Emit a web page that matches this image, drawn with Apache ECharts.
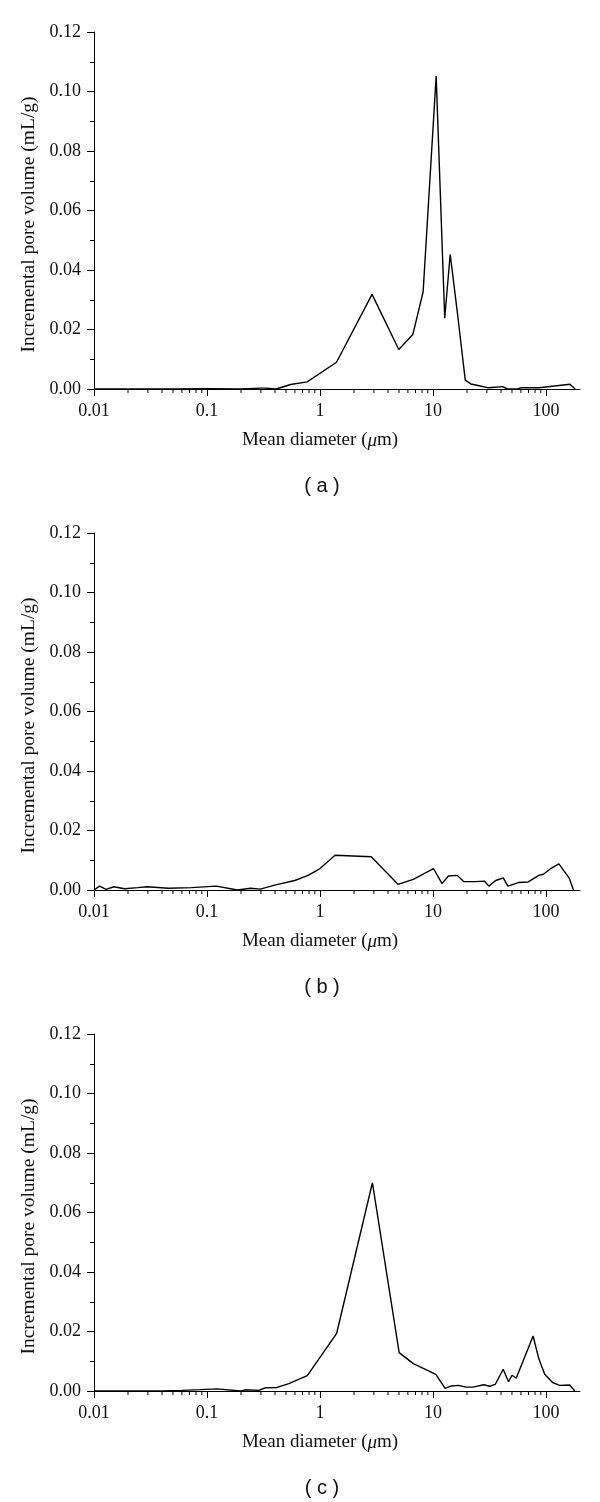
<!DOCTYPE html>
<html>
<head>
<meta charset="utf-8">
<script src="https://cdn.jsdelivr.net/npm/echarts@6/dist/echarts.min.js"></script>
<style>
    html, body { margin: 0; padding: 0; background: #fff; }
    #chart { width: 600px; height: 1502px; }
</style>
</head>
<body>
<div id="chart"></div>
<script>
// 面板 (a)
var diamA = [0.01, 0.02, 0.05, 0.1, 0.2, 0.3, 0.33, 0.41, 0.55, 0.77, 1.40, 2.89, 4.98, 6.63, 8.18,
    10.67, 12.7, 14.2, 16.6, 19.3, 21.6, 25.6, 31, 41.3, 45.7, 56, 60, 71, 87, 163, 181];
var volA = [0, 0, 0, 0.0001, 0, 0.0003, 0.0003, 0, 0.0015, 0.0024, 0.009, 0.0318, 0.0133, 0.0183, 0.0327,
    0.1052, 0.0238, 0.0453, 0.0243, 0.003, 0.0017, 0.0011, 0.0004, 0.0008, 0, 0, 0.0004, 0.0004, 0.0004, 0.0016, 0];

// 面板 (b)
var diamB = [0.01, 0.0112, 0.0128, 0.015, 0.0186, 0.0244, 0.0296, 0.0456, 0.0728, 0.121, 0.186, 0.244, 0.296,
    0.405, 0.598, 0.785, 1.0, 1.36, 2.84, 4.9, 6.7, 10.1, 12.0, 13.7, 16.4, 18.8, 23.4, 28.4, 31.2, 35.9,
    41.9, 46, 57, 69.6, 86.5, 95, 111, 130, 160, 175];
var volB = [0, 0.0013, 0.0002, 0.0011, 0.0004, 0.0008, 0.0011, 0.0006, 0.0008, 0.0013, 0, 0.0006, 0.0003,
    0.0017, 0.0032, 0.0049, 0.0072, 0.0117, 0.0112, 0.0019, 0.0036, 0.0072, 0.0022, 0.0047, 0.0049, 0.0028,
    0.0028, 0.003, 0.0013, 0.0032, 0.0041, 0.0013, 0.0025, 0.0027, 0.0049, 0.0053, 0.0073, 0.0088, 0.0041, 0];

// 面板 (c)
var diamC = [0.01, 0.02, 0.04, 0.06, 0.087, 0.123, 0.198, 0.219, 0.287, 0.33, 0.418, 0.53, 0.772, 1.405,
    2.91, 5.02, 6.7, 10.6, 12.8, 14.5, 16.9, 19.6, 22.5, 28.2, 31.7, 35.5, 41.8, 46.6, 50.1, 54.5, 76.9,
    86.3, 97.4, 115, 132, 162, 180];
var volC = [0, 0, 0, 0.0002, 0.00045, 0.0007, 0, 0.0004, 0.0002, 0.0011, 0.0012, 0.0025, 0.0052, 0.0194,
    0.070, 0.0129, 0.0092, 0.0056, 0.0009, 0.0017, 0.0019, 0.0013, 0.0013, 0.0021, 0.0016, 0.0022, 0.0073,
    0.0031, 0.0053, 0.0043, 0.0185, 0.0109, 0.0056, 0.0028, 0.0019, 0.002, 0];

var captions = ['( a )', '( b )', '( c )'];
var xName = 'Mean diameter ({i|\u03bc}m)';
var yName = 'Incremental pore volume (mL/g)';

// 对数轴次刻度
var minorTicks = [0.02, 0.03, 0.04, 0.05, 0.06, 0.07, 0.08, 0.09,
    0.2, 0.3, 0.4, 0.5, 0.6, 0.7, 0.8, 0.9,
    2, 3, 4, 5, 6, 7, 8, 9,
    20, 30, 40, 50, 60, 70, 80, 90];

var panels = [[diamA, volA], [diamB, volB], [diamC, volC]];
var tops = [32, 533, 1034];
var serif = 'Liberation Serif';

var chart = echarts.init(document.getElementById('chart'), null, { renderer: 'canvas' });

var grids = [], xAxes = [], yAxes = [], series = [], graphics = [];

panels.forEach(function (p, i) {
    grids.push({ left: 94, top: tops[i], width: 486, height: 357 });
    xAxes.push({
        type: 'log',
        gridIndex: i,
        min: 0.01,
        max: 200,
        logBase: 10,
        name: xName,
        nameLocation: 'middle',
        nameGap: 42,
        nameTextStyle: {
            fontFamily: serif,
            fontSize: 19,
            color: '#111',
            padding: [0, 34, 0, 0],
            rich: { i: { fontFamily: serif, fontSize: 19, fontStyle: 'italic', color: '#111' } }
        },
        axisLine: { show: true, onZero: false, lineStyle: { color: '#000', width: 1 } },
        axisTick: { show: true, length: 7, lineStyle: { color: '#000' } },
        axisLabel: {
            margin: 13,
            fontFamily: serif,
            fontSize: 18,
            color: '#111',
            showMaxLabel: false,
            formatter: function (v) { return String(parseFloat(v.toPrecision(4))); }
        },
        splitLine: { show: false }
    });
    yAxes.push({
        type: 'value',
        gridIndex: i,
        min: 0,
        max: 0.12,
        interval: 0.02,
        name: yName,
        nameLocation: 'middle',
        nameGap: 52,
        nameTextStyle: { fontFamily: serif, fontSize: 19.5, color: '#111', padding: [0, 28, 0, 0] },
        axisLine: { show: true, lineStyle: { color: '#000', width: 1 } },
        axisTick: { show: true, length: 7, lineStyle: { color: '#000' } },
        minorTick: { show: true, splitNumber: 2, length: 4, lineStyle: { color: '#000' } },
        axisLabel: {
            margin: 13,
            fontFamily: serif,
            fontSize: 18,
            color: '#111',
            formatter: function (v) { return v.toFixed(2); }
        },
        splitLine: { show: false }
    });
    series.push({
        type: 'line',
        xAxisIndex: i,
        yAxisIndex: i,
        data: p[0].map(function (d, k) { return [d, p[1][k]]; }),
        showSymbol: false,
        symbol: 'none',
        lineStyle: { color: '#000', width: 1.4 },
        silent: true
    });
    series.push({
        type: 'custom',
        xAxisIndex: i,
        yAxisIndex: i,
        silent: true,
        data: minorTicks.map(function (v) { return [v, 0]; }),
        renderItem: function (params, api) {
            var pt = api.coord([api.value(0), 0]);
            return {
                type: 'line',
                shape: { x1: pt[0], y1: pt[1], x2: pt[0], y2: pt[1] + 4 },
                style: { stroke: '#000', lineWidth: 1 }
            };
        }
    });
    graphics.push({
        type: 'text',
        x: 322,
        y: tops[i] + 454,
        style: {
            text: captions[i],
            fontFamily: 'Liberation Sans',
            fontSize: 20,
            fill: '#111',
            textAlign: 'center',
            textVerticalAlign: 'middle'
        }
    });
});

chart.setOption({
    animation: false,
    backgroundColor: '#fff',
    grid: grids,
    xAxis: xAxes,
    yAxis: yAxes,
    series: series,
    graphic: graphics
});
</script>
</body>
</html>
